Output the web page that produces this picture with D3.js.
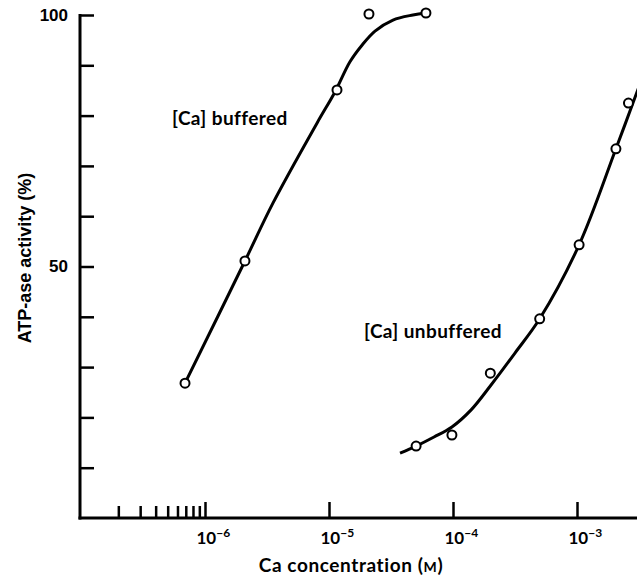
<!DOCTYPE html>
<html><head><meta charset="utf-8">
<script src="https://cdn.jsdelivr.net/npm/d3@7"></script>
<style>body{margin:0;background:#fff}svg{display:block}</style>
</head><body>
<svg id="c" width="637" height="579"></svg>
<script>
// Data
const bufferedConc = [6.9e-7, 2.1e-6, 1.16e-5, 2.1e-5, 6.05e-5];
const bufferedAct  = [26.8, 51.1, 85.1, 100.2, 100.4];
const unbufferedConc = [5.04e-5, 9.8e-5, 2.0e-4, 5.0e-4, 1.04e-3, 2.06e-3, 2.6e-3];
const unbufferedAct  = [14.3, 16.5, 28.8, 39.6, 54.3, 73.4, 82.5];
// Hand-drawn fitted curves
const bufferedCurveConc = [6.9e-7, 2.1e-6, 3.53e-6, 8.0e-6, 1.117e-5, 1.476e-5, 1.845e-5, 2.35e-5, 3.28e-5, 4.75e-5, 6.05e-5];
const bufferedCurveAct  = [26.8, 51.1, 62.6, 78.5, 84.7, 90.7, 94.0, 96.8, 99.0, 100.0, 100.4];
const unbufferedCurveConc = [3.74e-5, 5.04e-5, 7.03e-5, 9.8e-5, 1.40e-4, 2.02e-4, 3.16e-4, 5.0e-4, 1.04e-3, 2.06e-3, 3.22e-3];
const unbufferedCurveAct  = [12.9, 14.3, 16.1, 18.1, 21.5, 26.4, 32.8, 39.6, 54.3, 73.4, 86.3];
const yTicks = [10,20,30,40,50,60,70,80,90,100];
const yLabels = [50, 100];
const majorTicks = [1e-6, 1e-5, 1e-4, 1e-3];
const majorExp = ["−6", "−5", "−4", "−3"];
const minorTicks = [2e-7,3e-7,4e-7,5e-7,6e-7,7e-7,8e-7,9e-7];

const svg = d3.select("#c");
const x = d3.scaleLog().domain([1e-7, 10**(-6 + (637-205)/124)]).range([81, 637]);
const y = d3.scaleLinear().domain([0, 100]).range([518, 15]);
const FONT = "Lato, sans-serif";

// Y axis
const yAxis = d3.axisLeft(y).tickValues(yTicks).tickSize(-14).tickPadding(12)
  .tickFormat(d => yLabels.includes(d) ? d : "");
const gy = svg.append("g").attr("transform","translate(80,0)").call(yAxis);
gy.select(".domain").remove();
gy.selectAll(".tick line").attr("stroke","#000").attr("stroke-width",2.5);
gy.selectAll(".tick text").attr("font-family","Liberation Sans, Arial, sans-serif")
  .attr("font-weight","bold").attr("font-size",17).attr("fill","#000");
svg.append("line").attr("x1",80).attr("x2",80).attr("y1",y(100)-1).attr("y2",y(0)+1.5)
  .attr("stroke","#000").attr("stroke-width",3);

// X axis
const gxMinor = svg.append("g").attr("transform",`translate(0,${y(0)})`)
  .call(d3.axisBottom(x).tickValues(minorTicks).tickSize(-12).tickFormat(""));
gxMinor.select(".domain").remove();
const gxMajor = svg.append("g").attr("transform",`translate(0,${y(0)})`)
  .call(d3.axisBottom(x).tickValues(majorTicks).tickSize(-16).tickFormat(""));
gxMajor.select(".domain").remove();
svg.selectAll(".tick line").attr("stroke","#000").attr("stroke-width",2.5);
gxMajor.selectAll(".tick").each(function(d,i){
  const t = d3.select(this).append("text").attr("x",-9).attr("y",26)
    .attr("font-family",FONT).attr("font-weight","bold").attr("font-size",17).attr("fill","#000")
    .attr("text-anchor","start");
  t.append("tspan").text("10");
  t.append("tspan").attr("dy",-7).attr("font-size",12).text(majorExp[i]);
});
svg.append("line").attr("x1",78.5).attr("x2",637).attr("y1",y(0)).attr("y2",y(0))
  .attr("stroke","#000").attr("stroke-width",3);

// Titles
const xt = svg.append("text").attr("x",351).attr("y",572).attr("text-anchor","middle")
  .attr("font-family",FONT).attr("font-weight","bold").attr("font-size",19)
  .attr("letter-spacing",0.6).attr("fill","#000");
xt.append("tspan").text("Ca concentration (");
xt.append("tspan").attr("font-size",14).text("M");
xt.append("tspan").text(")");
svg.append("text").attr("transform","translate(31,258) rotate(-90)").attr("text-anchor","middle")
  .attr("font-family","Liberation Sans, Arial, sans-serif").attr("font-weight","bold")
  .attr("font-size",18).attr("fill","#000").text("ATP-ase activity (%)");

// Curves
const line = d3.line().x(d=>x(d[0])).y(d=>y(d[1])).curve(d3.curveCatmullRom.alpha(0.5));
svg.append("defs").append("clipPath").attr("id","clip").append("rect")
  .attr("x",80).attr("y",0).attr("width",557).attr("height",579);
svg.append("path").datum(d3.zip(bufferedCurveConc, bufferedCurveAct)).attr("d",line)
  .attr("fill","none").attr("stroke","#000").attr("stroke-width",3).attr("clip-path","url(#clip)");
svg.append("path").datum(d3.zip(unbufferedCurveConc, unbufferedCurveAct)).attr("d",line)
  .attr("fill","none").attr("stroke","#000").attr("stroke-width",3).attr("clip-path","url(#clip)");

// Points
const pts = d3.zip(bufferedConc, bufferedAct).concat(d3.zip(unbufferedConc, unbufferedAct));
svg.append("g").selectAll("circle").data(pts).join("circle")
  .attr("cx",d=>x(d[0])).attr("cy",d=>y(d[1])).attr("r",4.5)
  .attr("fill","#fff").attr("stroke","#000").attr("stroke-width",2);

// Labels
svg.append("text").attr("x",172).attr("y",125).attr("font-family",FONT).attr("font-weight","bold")
  .attr("font-size",19).attr("letter-spacing",0.4).attr("fill","#000").text("[Ca] buffered");
svg.append("text").attr("x",364).attr("y",338).attr("font-family",FONT).attr("font-weight","bold")
  .attr("font-size",19).attr("letter-spacing",0.4).attr("fill","#000").text("[Ca] unbuffered");
</script>
</body></html>
